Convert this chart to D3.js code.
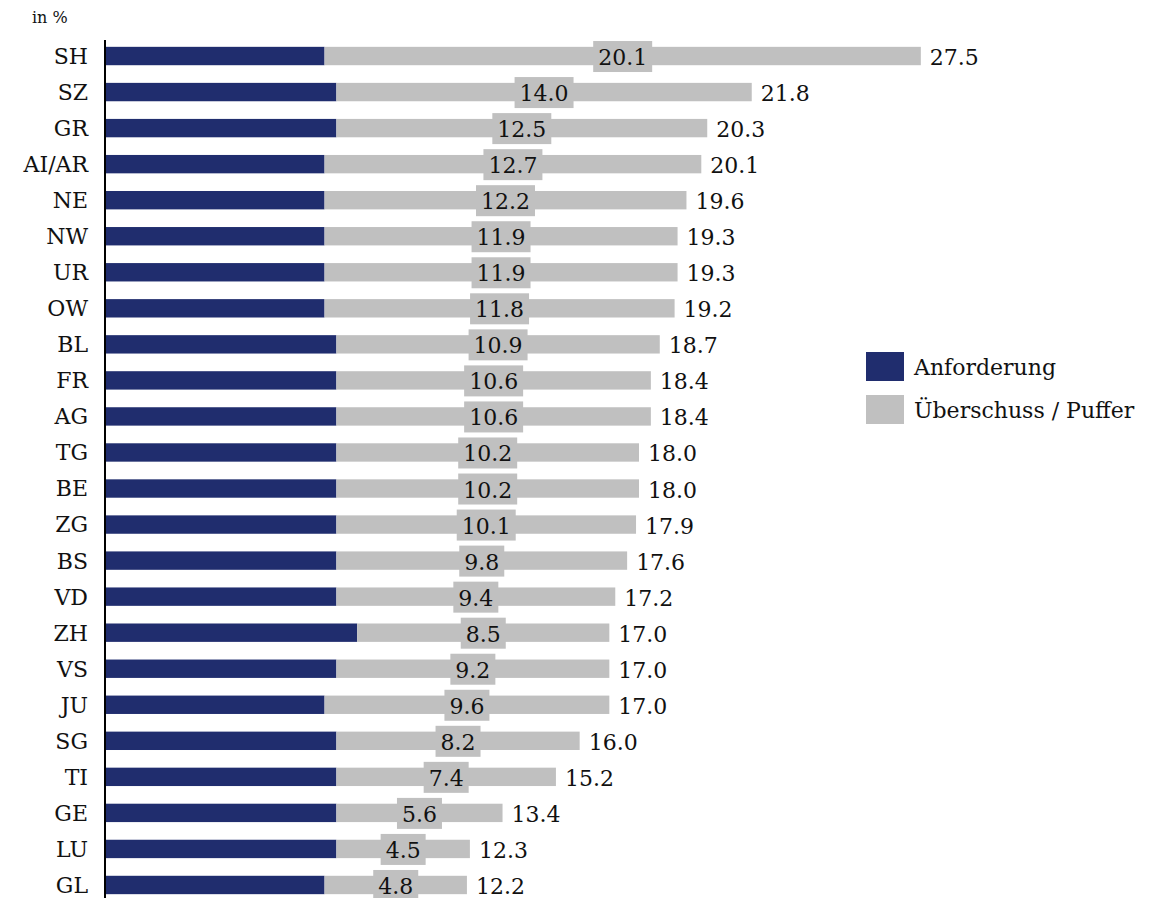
<!DOCTYPE html>
<html>
<head>
<meta charset="utf-8">
<script src="https://cdn.jsdelivr.net/npm/d3@7"></script>
<style>
  body { margin: 0; background: #fff; }
  svg text { font-family: Georgia, "DejaVu Serif", serif; fill: #111; }
</style>
</head>
<body>
<svg id="chart" width="1153" height="898"></svg>
<script>
// Cantons, ordered by total ratio
const cantons = ["SH","SZ","GR","AI/AR","NE","NW","UR","OW","BL","FR","AG","TG","BE","ZG","BS","VD","ZH","VS","JU","SG","TI","GE","LU","GL"];
// Requirement share (Anforderung), in %
const requirement = [7.4,7.8,7.8,7.4,7.4,7.4,7.4,7.4,7.8,7.8,7.8,7.8,7.8,7.8,7.8,7.8,8.5,7.8,7.4,7.8,7.8,7.8,7.8,7.4];
// Surplus / buffer (Überschuss / Puffer), in %
const surplus = [20.1,14.0,12.5,12.7,12.2,11.9,11.9,11.8,10.9,10.6,10.6,10.2,10.2,10.1,9.8,9.4,8.5,9.2,9.6,8.2,7.4,5.6,4.5,4.8];
// Totals shown at bar ends
const totals = [27.5,21.8,20.3,20.1,19.6,19.3,19.3,19.2,18.7,18.4,18.4,18.0,18.0,17.9,17.6,17.2,17.0,17.0,17.0,16.0,15.2,13.4,12.3,12.2];
const legendLabels = ["Anforderung", "Überschuss / Puffer"];
const colors = ["#202d6e", "#c0c0c0"];

const rows = cantons.map((c, i) => ({ c, req: requirement[i], sur: surplus[i], tot: totals[i] }));

const svg = d3.select("#chart");
const x = d3.scaleLinear().domain([0, 30]).range([105, 995]);
const y = d3.scaleBand().domain(cantons).range([38, 903]).paddingInner(0.49).paddingOuter(0.245);
const fmt = d3.format(".1f");
const FS = 22;

// unit label
svg.append("text").attr("x", 32).attr("y", 23).attr("font-size", 16).text("in %");

const g = svg.append("g");
const row = g.selectAll("g.row").data(rows).join("g").attr("class", "row");

// requirement segment
row.append("rect")
  .attr("x", x(0)).attr("y", d => y(d.c))
  .attr("width", d => x(d.req) - x(0)).attr("height", y.bandwidth())
  .attr("fill", colors[0]);

// surplus segment
row.append("rect")
  .attr("x", d => x(d.req)).attr("y", d => y(d.c))
  .attr("width", d => x(d.req + d.sur) - x(d.req)).attr("height", y.bandwidth())
  .attr("fill", colors[1]);

// surplus value labels on a gray box
const lab = row.append("g")
  .attr("transform", d => `translate(${(x(d.req) + x(d.req + d.sur)) / 2},${y(d.c) + y.bandwidth() / 2})`);
lab.append("rect").attr("fill", colors[1]);
lab.append("text")
  .attr("text-anchor", "middle").attr("y", 9).attr("font-size", FS)
  .text(d => fmt(d.sur))
  .each(function() {
    const w = this.getComputedTextLength();
    d3.select(this.previousSibling)
      .attr("x", -w / 2 - 5).attr("width", w + 10)
      .attr("y", -15).attr("height", 31);
  });

// total labels
row.append("text")
  .attr("x", d => x(d.tot) + 9).attr("y", d => y(d.c) + y.bandwidth() / 2 + 9)
  .attr("font-size", FS)
  .text(d => fmt(d.tot));

// category axis
const yAxis = svg.append("g").attr("transform", `translate(${x(0)},0)`)
  .call(d3.axisLeft(y).tickSize(0).tickPadding(17));
yAxis.select(".domain").remove();
yAxis.selectAll("text").attr("font-size", FS).attr("font-family", null).attr("fill", "#111").attr("dy", "0.36em");
svg.append("line")
  .attr("x1", x(0)).attr("x2", x(0)).attr("y1", 40).attr("y2", 898)
  .attr("stroke", "#000").attr("stroke-width", 2);

// legend
const lg = svg.append("g").selectAll("g").data(legendLabels).join("g")
  .attr("transform", (d, i) => `translate(866,${352 + i * 43})`);
lg.append("rect").attr("width", 38).attr("height", 29).attr("fill", (d, i) => colors[i]);
lg.append("text").attr("x", 48).attr("y", 23).attr("font-size", FS).text(d => d);
</script>
</body>
</html>
